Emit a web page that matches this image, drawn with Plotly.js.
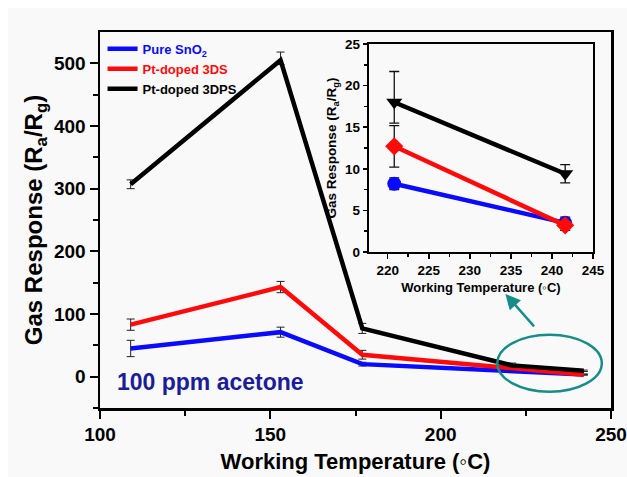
<!DOCTYPE html>
<html>
<head>
<meta charset="utf-8">
<script src="https://cdn.plot.ly/plotly-3.0.1.min.js"></script>
<style>
html,body{margin:0;padding:0;background:#ffffff;}
#chart{position:absolute;left:8px;top:8px;width:619px;height:469px;}
</style>
</head>
<body>
<div id="chart"></div>
<script>
// ---- data ----
const temps = [109, 153, 177, 221, 242];
const seriesNames = ['Pure SnO<sub>2</sub>', 'Pt-doped 3DS', 'Pt-doped 3DPS'];
const pureSnO2 = [45, 71, 20, 8.2, 3.5];
const pureSnO2Err = [13, 8, 3, 0.7, 0.7];
const pt3DS = [83, 143, 35, 12.7, 3.2];
const pt3DSErr = [9, 9, 7, 2.5, 0.6];
const pt3DPS = [307, 505, 77, 18, 9.4];
const pt3DPSErrPlus = [7, 13, 8, 3.7, 1.1];
const pt3DPSErrMinus = [7, 7, 8, 2.5, 1.1];

const insetTemps = [220.8, 241.6];
const insetPure = [8.2, 3.5];
const insetPureErr = [0.7, 0.7];
const insetDS = [12.7, 3.2];
const insetDSErr = [2.5, 0.6];
const insetDPS = [18, 9.4];
const insetDPSErrPlus = [3.7, 1.1];
const insetDPSErrMinus = [2.5, 1.1];

const mainXTicks = [100, 150, 200, 250];
const mainYTicks = [0, 100, 200, 300, 400, 500];
const insetXTicks = [220, 225, 230, 235, 240, 245];
const insetYTicks = [0, 5, 10, 15, 20, 25];

// ---- styles ----
const BLUE = '#0a0aff', RED = '#ff0a0a', BLACK = '#000000', TEAL = '#178c88';
const FONT = 'Liberation Sans';
function f(size, color, fam) { return {family: fam || FONT, size: size, weight: 'bold', color: color || '#000'}; }

function mainTrace(y, errP, errM, color, name) {
  return {
    x: temps, y: y, type: 'scatter', mode: 'lines', name: name,
    line: {color: color, width: 4.5},
    error_y: {type: 'data', array: errP, arrayminus: errM, symmetric: false,
              color: '#222', thickness: 1, width: 4},
    xaxis: 'x', yaxis: 'y'
  };
}
function insetTrace(y, errP, errM, color, symbol) {
  return {
    x: insetTemps, y: y, type: 'scatter', mode: 'lines+markers', showlegend: false,
    line: {color: color, width: 4.5},
    marker: {color: color, size: 14, symbol: symbol},
    error_y: {type: 'data', array: errP, arrayminus: errM, symmetric: false,
              color: '#111', thickness: 1.3, width: 5},
    xaxis: 'x2', yaxis: 'y2', hoverinfo: 'skip'
  };
}

const traces = [
  mainTrace(pureSnO2, pureSnO2Err, pureSnO2Err, BLUE, '<span style="color:' + BLUE + '">' + seriesNames[0] + '</span>'),
  mainTrace(pt3DS, pt3DSErr, pt3DSErr, RED, '<span style="color:' + RED + '">' + seriesNames[1] + '</span>'),
  mainTrace(pt3DPS, pt3DPSErrPlus, pt3DPSErrMinus, BLACK, seriesNames[2]),
  insetTrace(insetPure, insetPureErr, insetPureErr, BLUE, 'circle'),
  insetTrace(insetDS, insetDSErr, insetDSErr, RED, 'diamond'),
  insetTrace(insetDPS, insetDPSErrPlus, insetDPSErrMinus, BLACK, 'triangle-down')
];

const axBase = {showgrid: false, zeroline: false, showline: true, linecolor: '#000',
  mirror: true, ticks: 'outside', tickcolor: '#000', tickmode: 'array'};

const layout = {
  width: 619, height: 469,
  margin: {l: 92, r: 16, t: 24, b: 69},
  paper_bgcolor: '#f9f9f9', plot_bgcolor: '#f9f9f9',
  font: {family: FONT, color: '#000'},
  showlegend: true,
  legend: {x: 0.005, y: 0.995, xanchor: 'left', yanchor: 'top', bgcolor: 'rgba(0,0,0,0)',
           font: f(13), tracegroupgap: 0},
  xaxis: Object.assign({}, axBase, {
    domain: [0, 1], range: [100, 250], tickvals: mainXTicks, ticklen: 8, tickwidth: 2, linewidth: 2.5,
    minor: {tickvals: [125, 175, 225], ticklen: 5, tickwidth: 2, tickcolor: '#000', ticks: 'outside'},
    tickfont: f(19),
    title: {text: 'Working Temperature (◦C)', font: f(22), standoff: 10}
  }),
  yaxis: Object.assign({}, axBase, {
    domain: [0, 1], range: [-50, 550], tickvals: mainYTicks, ticklen: 8, tickwidth: 2, linewidth: 2.5,
    minor: {tickvals: [-50, 50, 150, 250, 350, 450], ticklen: 5, tickwidth: 2, tickcolor: '#000', ticks: 'outside'},
    tickfont: f(19),
    title: {text: 'Gas Response (R<sub>a</sub>/R<sub>g</sub>)', font: f(24), standoff: 5}
  }),
  xaxis2: Object.assign({}, axBase, {
    domain: [0.526, 0.965], anchor: 'y2', range: [217.7, 245], tickvals: insetXTicks,
    ticklen: 5, tickwidth: 1.5, linewidth: 2,
    minor: {tickvals: [222.5, 227.5, 232.5, 237.5, 242.5], ticklen: 3, tickwidth: 1.5, tickcolor: '#000', ticks: 'outside'},
    tickfont: f(13.5),
    title: {text: 'Working Temperature (◦C)', font: f(13), standoff: 6}
  }),
  yaxis2: Object.assign({}, axBase, {
    domain: [0.415, 0.968], anchor: 'x2', range: [0, 25], tickvals: insetYTicks,
    ticklen: 4, tickwidth: 1.5, linewidth: 2,
    minor: {tickvals: [2.5, 7.5, 12.5, 17.5, 22.5], ticklen: 3, tickwidth: 1.5, tickcolor: '#000', ticks: 'outside'},
    tickfont: f(13.5),
    title: {text: 'Gas Response (R<sub>a</sub>/R<sub>g</sub>)', font: f(13.5, '#000', 'Arial'), standoff: 5}
  }),
  shapes: [
    {type: 'circle', xref: 'x', yref: 'y', x0: 216.6, x1: 247.3, y0: -24, y1: 67,
     line: {color: TEAL, width: 2.5}}
  ],
  annotations: [
    {x: 132.5, y: -8, xref: 'x', yref: 'y', text: '100 ppm acetone', showarrow: false,
     font: f(23, '#1c1c99')},
    {x: 219, y: 132, xref: 'x', yref: 'y', text: '', showarrow: true, ax: 30, ay: 34,
     arrowcolor: TEAL, arrowwidth: 2.5, arrowhead: 2, arrowsize: 1.2}
  ]
};

Plotly.newPlot('chart', traces, layout, {displayModeBar: false, staticPlot: true});
</script>
</body>
</html>
